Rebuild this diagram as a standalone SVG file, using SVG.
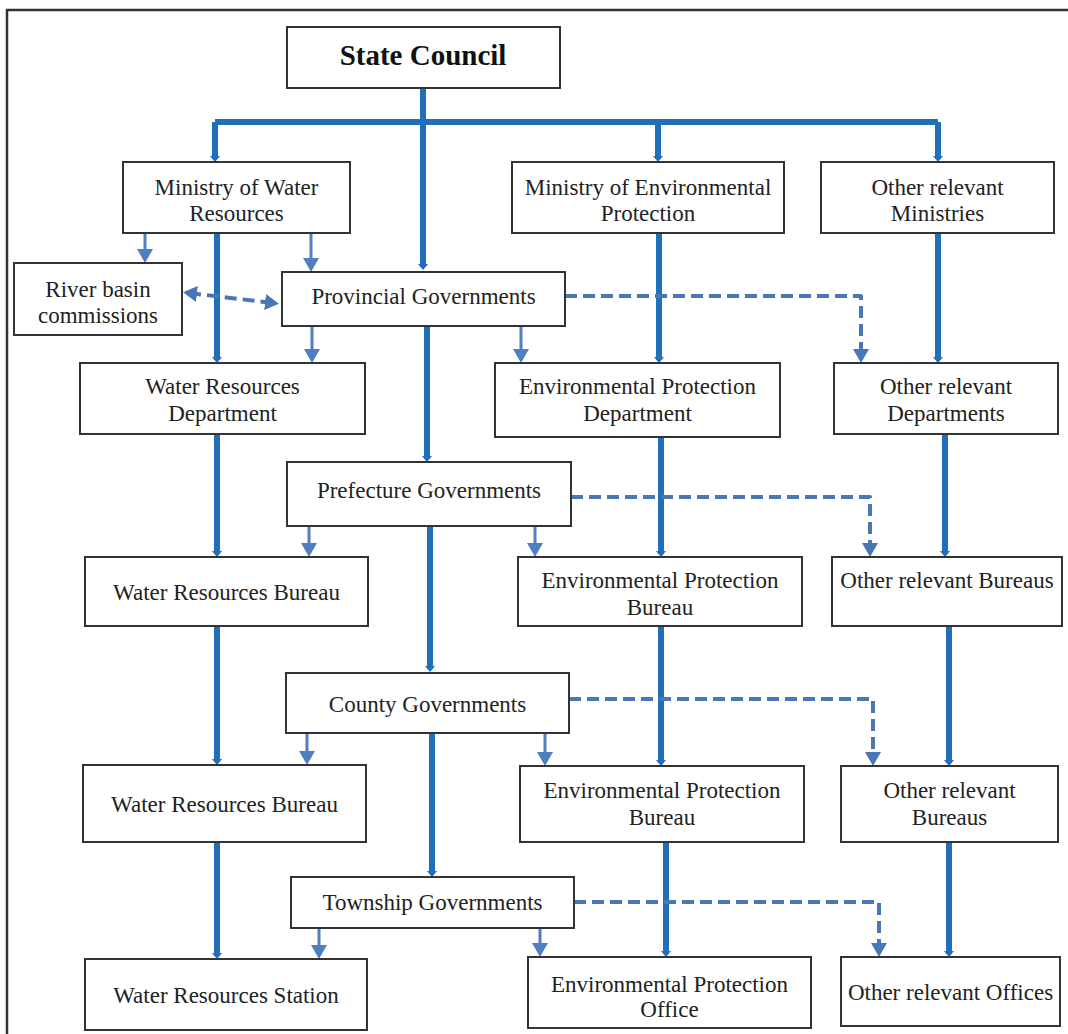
<svg xmlns="http://www.w3.org/2000/svg" width="1068" height="1034" viewBox="0 0 1068 1034">
<style>
.box{fill:#fff;stroke:#333;stroke-width:2}
.t{font-family:"Liberation Serif","Times New Roman",serif;font-size:23px;fill:#222;text-anchor:middle}
.tb{font-family:"Liberation Serif","Times New Roman",serif;font-size:29px;font-weight:bold;fill:#111;text-anchor:middle}
.thick{fill:none;stroke:#1f6fba;stroke-width:6}
.thin{fill:none;stroke:#4f7fbf;stroke-width:3}
.dash{fill:none;stroke:#4a76b4;stroke-width:4;stroke-dasharray:12 6;stroke-linejoin:round}
</style>
<defs>
<marker id="ah" viewBox="0 0 14 16" refX="8" refY="8" markerWidth="14" markerHeight="16" markerUnits="userSpaceOnUse" orient="auto-start-reverse"><path d="M0,0 L14,8 L0,16 z" fill="#4f7fbf"/></marker>
<marker id="ahd" viewBox="0 0 14 16" refX="8" refY="8" markerWidth="14" markerHeight="16" markerUnits="userSpaceOnUse" orient="auto-start-reverse"><path d="M0,0 L14,8 L0,16 z" fill="#4a76b4"/></marker>
<marker id="aht" viewBox="0 0 6 10" refX="3" refY="5" markerWidth="6" markerHeight="10" markerUnits="userSpaceOnUse" orient="auto"><path d="M0,0 L6,5 L0,10 z" fill="#1f6fba"/></marker>
</defs>
<rect width="1068" height="1034" fill="#fff"/>
<path d="M7 1034 V10 H1068" fill="none" stroke="#333" stroke-width="2.5"/>

<g id="connectors">
<g class="thick" marker-end="url(#aht)">
<path d="M423 88 V267"/>
<path d="M215 122 H938" marker-end="none"/>
<path d="M215 122 V159"/>
<path d="M658 122 V159"/>
<path d="M938 122 V159"/>
<path d="M217 233 V360"/>
<path d="M659 233 V360"/>
<path d="M938 233 V360"/>
<path d="M427 326 V459"/>
<path d="M217 434 V554"/>
<path d="M661 437 V554"/>
<path d="M945 434 V554"/>
<path d="M430 526 V669"/>
<path d="M217 626 V762"/>
<path d="M661 626 V763"/>
<path d="M949 626 V763"/>
<path d="M432 733 V874"/>
<path d="M217 842 V956"/>
<path d="M666 842 V954"/>
<path d="M949 842 V954"/>
</g>
<g class="thin" marker-end="url(#ah)">
<path d="M145 233 V257"/>
<path d="M311 233 V266"/>
<path d="M312 326 V357"/>
<path d="M521 326 V357"/>
<path d="M309 526 V551"/>
<path d="M535 526 V551"/>
<path d="M307 733 V759"/>
<path d="M545 733 V760"/>
<path d="M319 928 V953"/>
<path d="M540 928 V951"/>
</g>
<g class="dash" marker-end="url(#ahd)">
<path d="M565 296 H861 V357"/>
<path d="M571 497 H870 V551"/>
<path d="M569 699 H873 V760"/>
<path d="M574 902 H879 V951"/>
<path d="M189 293 L273 303" marker-start="url(#ahd)"/>
</g>
</g>

<g id="state-council"><rect class="box" x="287" y="27" width="273" height="61"/><text class="tb" x="423" y="65">State Council</text></g>
<g id="ministry-water"><rect class="box" x="123" y="162" width="227" height="71"/><text class="t" x="236.5" y="195">Ministry of Water</text><text class="t" x="236.5" y="221">Resources</text></g>
<g id="ministry-env"><rect class="box" x="512" y="162" width="272" height="71"/><text class="t" x="648" y="195">Ministry of Environmental</text><text class="t" x="648" y="221">Protection</text></g>
<g id="other-ministries"><rect class="box" x="821" y="162" width="233" height="71"/><text class="t" x="937.5" y="195">Other relevant</text><text class="t" x="937.5" y="221">Ministries</text></g>
<g id="river-basin"><rect class="box" x="14" y="263" width="168" height="72"/><text class="t" x="98" y="297">River basin</text><text class="t" x="98" y="323">commissions</text></g>
<g id="provincial"><rect class="box" x="282" y="272" width="283" height="54"/><text class="t" x="423.5" y="304">Provincial Governments</text></g>
<g id="wr-department"><rect class="box" x="80" y="363" width="285" height="71"/><text class="t" x="222.5" y="394">Water Resources</text><text class="t" x="222.5" y="421">Department</text></g>
<g id="ep-department"><rect class="box" x="495" y="363" width="285" height="74"/><text class="t" x="637.5" y="394">Environmental Protection</text><text class="t" x="637.5" y="421">Department</text></g>
<g id="other-departments"><rect class="box" x="834" y="363" width="224" height="71"/><text class="t" x="946" y="394">Other relevant</text><text class="t" x="946" y="421">Departments</text></g>
<g id="prefecture"><rect class="box" x="287" y="462" width="284" height="64"/><text class="t" x="429" y="498">Prefecture Governments</text></g>
<g id="wr-bureau-1"><rect class="box" x="85" y="557" width="283" height="69"/><text class="t" x="226.5" y="600">Water Resources Bureau</text></g>
<g id="ep-bureau-1"><rect class="box" x="518" y="557" width="284" height="69"/><text class="t" x="660" y="588">Environmental Protection</text><text class="t" x="660" y="615">Bureau</text></g>
<g id="other-bureaus-1"><rect class="box" x="832" y="557" width="230" height="69"/><text class="t" x="947" y="588">Other relevant Bureaus</text></g>
<g id="county"><rect class="box" x="286" y="673" width="283" height="60"/><text class="t" x="427.5" y="712">County Governments</text></g>
<g id="wr-bureau-2"><rect class="box" x="83" y="765" width="283" height="77"/><text class="t" x="224.5" y="812">Water Resources Bureau</text></g>
<g id="ep-bureau-2"><rect class="box" x="520" y="766" width="284" height="76"/><text class="t" x="662" y="798">Environmental Protection</text><text class="t" x="662" y="825">Bureau</text></g>
<g id="other-bureaus-2"><rect class="box" x="841" y="766" width="217" height="76"/><text class="t" x="949.5" y="798">Other relevant</text><text class="t" x="949.5" y="825">Bureaus</text></g>
<g id="township"><rect class="box" x="291" y="877" width="283" height="51"/><text class="t" x="432.5" y="910">Township Governments</text></g>
<g id="wr-station"><rect class="box" x="85" y="959" width="282" height="71"/><text class="t" x="226" y="1003">Water Resources Station</text></g>
<g id="ep-office"><rect class="box" x="528" y="957" width="283" height="71"/><text class="t" x="669.5" y="992">Environmental Protection</text><text class="t" x="669.5" y="1017">Office</text></g>
<g id="other-offices"><rect class="box" x="841" y="957" width="219" height="69"/><text class="t" x="950.5" y="1000">Other relevant Offices</text></g>
</svg>
